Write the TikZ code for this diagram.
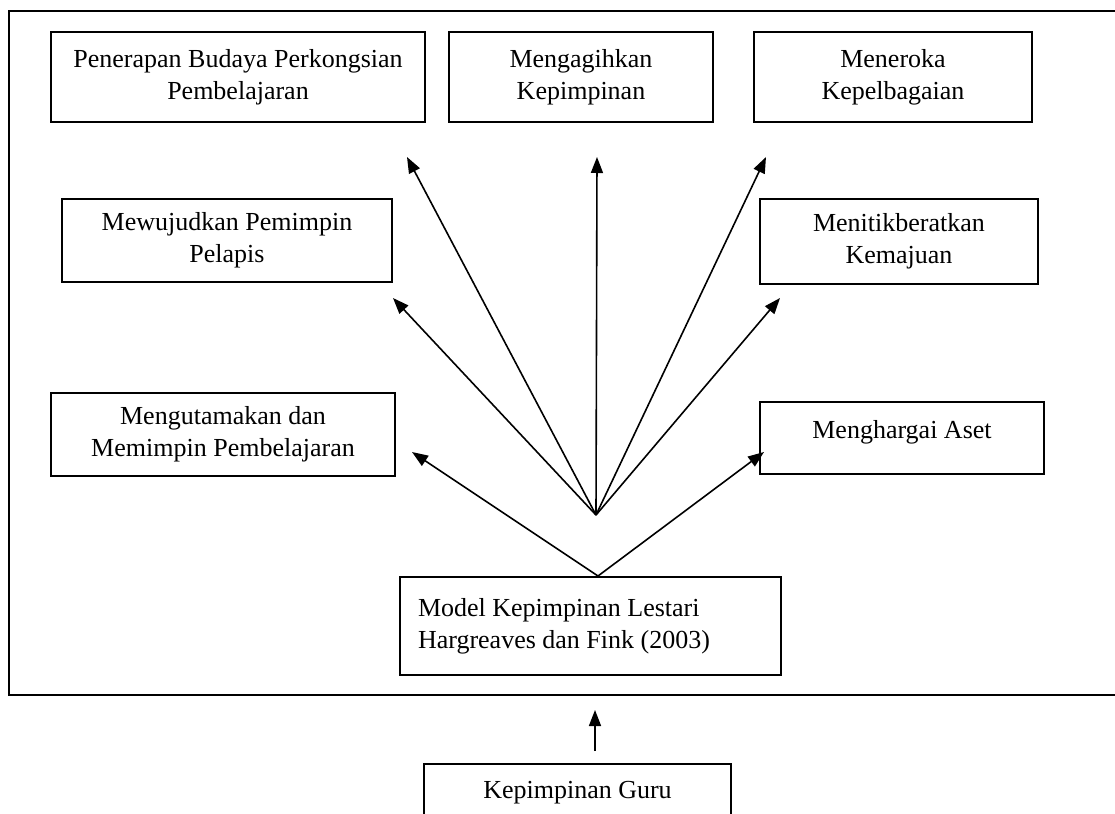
\documentclass[tikz,border=0pt]{standalone}
\usepackage{fontspec}
\setmainfont{Liberation Serif}
\usetikzlibrary{arrows.meta,positioning,calc}

\begin{document}
\begin{tikzpicture}[x=0.5pt,y=-0.5pt,every node/.style={font=\fontsize{13}{16}\selectfont,align=center},box/.style={draw,line width=1pt,inner sep=0pt,minimum width=#1},single/.style={text height=7pt,text depth=7pt},arr/.style={-{Triangle[length=8pt,width=6pt]},line width=0.8pt}]
\clip (0,0) rectangle (1115,814);
\draw[line width=1pt] (9,11) rectangle (1130,695);
% top row
\node[box=187pt,minimum height=45pt] (pbp) at (238,77) {Penerapan Budaya Perkongsian\\Pembelajaran};
\node[box=132pt,minimum height=45pt] (mkp) at (581,77) {Mengagihkan\\Kepimpinan};
\node[box=139pt,minimum height=45pt] (mkb) at (893,77) {Meneroka\\Kepelbagaian};
% middle row
\node[box=165pt,minimum height=41.5pt] (mpp) at (227,240.5) {Mewujudkan Pemimpin\\Pelapis};
\node[box=139pt,minimum height=42.5pt] (mkj) at (899,241.5) {Menitikberatkan\\Kemajuan};
% lower row
\node[box=172pt,minimum height=41.5pt] (mmp) at (223,434.5) {Mengutamakan dan\\Memimpin Pembelajaran};
\node[box=142pt,minimum height=36pt,single] (mha) at (902,438) {Menghargai Aset};
% model and source
\node[box=190.5pt,minimum height=49pt,text width=172.5pt,inner xsep=9pt,align=flush left] (mkl) at (590.5,626) {Model Kepimpinan Lestari\\Hargreaves dan Fink (2003)};
\node[box=153.5pt,minimum height=34pt,single] (kgu) at (577.5,798) {Kepimpinan Guru};
% arrow ends
\coordinate (hub) at (596,515);
\coordinate (t1) at (407,157);
\coordinate (t2) at (597,157);
\coordinate (t3) at (766,157);
\coordinate (t4) at (393,298);
\coordinate (t5) at (780,298);
\coordinate (t6) at (412,452);
\coordinate (t7) at (764,452);
\coordinate (t8) at (595,710);
\foreach \t in {t1,t2,t3,t4,t5} \draw[arr] (hub)--(\t);
\draw[arr] ([xshift=3.75pt]mkl.north)--(t6);
\draw[arr] ([xshift=3.75pt]mkl.north)--(t7);
\draw[arr,shorten <=6pt] ([xshift=8.75pt]kgu.north)--(t8);
\end{tikzpicture}
\end{document}
